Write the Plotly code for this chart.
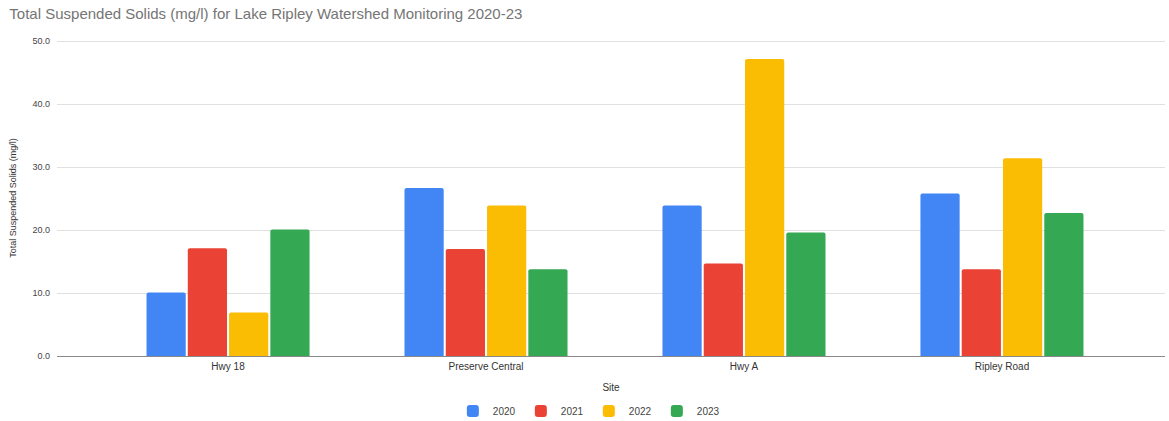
import plotly.graph_objects as go

sites = ["Hwy 18", "Preserve Central", "Hwy A", "Ripley Road"]
years = ["2020", "2021", "2022", "2023"]
tss_2020 = [10.1, 26.7, 23.9, 25.8]
tss_2021 = [17.1, 17.0, 14.7, 13.8]
tss_2022 = [6.9, 23.9, 47.2, 31.4]
tss_2023 = [20.1, 13.8, 19.6, 22.7]
y_ticks = [0, 10, 20, 30, 40, 50]

series = [tss_2020, tss_2021, tss_2022, tss_2023]
colors = ["#4285F4", "#EA4335", "#FBBC04", "#34A853"]

font_family = "Liberation Sans, Arial, sans-serif"

fig = go.Figure()
for year, vals, color in zip(years, series, colors):
    fig.add_trace(go.Bar(
        x=sites, y=vals, name=year,
        marker=dict(color=color, line=dict(width=0)),
        hovertemplate="%{x}<br>" + year + ": %{y:.1f}<extra></extra>",
    ))

fig.update_layout(
    width=1169, height=421,
    paper_bgcolor="white", plot_bgcolor="white",
    margin=dict(l=57, r=4, t=40, b=65, autoexpand=False),
    barmode="group", bargap=0.36, bargroupgap=0.05,
    barcornerradius=2,
    font=dict(family=font_family, color="#444444"),
    title=dict(
        text="Total Suspended Solids (mg/l) for Lake Ripley Watershed Monitoring 2020-23",
        x=0.008, xanchor="left", y=0.968, yanchor="middle",
        font=dict(size=15, color="#757575", family=font_family),
    ),
    legend=dict(
        orientation="h", x=0.48, xanchor="center",
        yref="container", y=0.024, yanchor="middle",
        font=dict(size=10, color="#444444"),
        itemwidth=30, entrywidth=23, traceorder="normal",
    ),
    showlegend=True,
)

fig.update_xaxes(
    range=[-0.663, 3.632], automargin=False,
    showgrid=False, showline=False, ticks="", ticklabelstandoff=3,
    tickfont=dict(size=10, color="#333333"),
    title=dict(text="Site", font=dict(size=10, color="#333333"), standoff=12),
)

fig.update_yaxes(
    range=[0, 50.2], tickvals=y_ticks, tickformat=".1f", automargin=False,
    showgrid=True, gridcolor="#e0e0e0", gridwidth=1,
    zeroline=True, zerolinecolor="#8a8a8a", zerolinewidth=1,
    showline=False, ticks="", ticklabelstandoff=6,
    tickfont=dict(size=9, color="#444444"),
    title=dict(text="Total Suspended Solids (mg/l)", font=dict(size=9, color="#333333"), standoff=14),
)

fig.write_html("out.html")
